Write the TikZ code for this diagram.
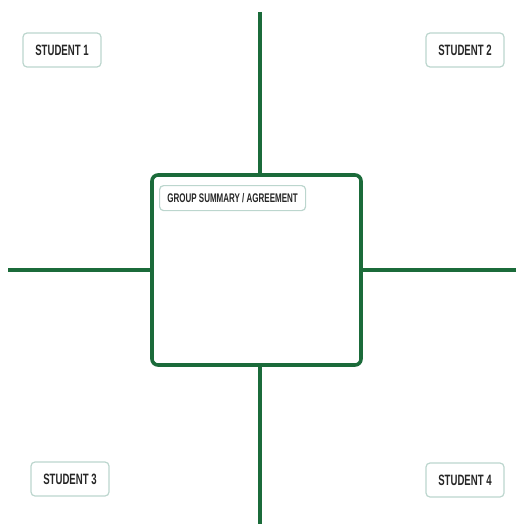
\documentclass[tikz,border=0pt]{standalone}
\usepackage{fontspec}
\newfontfamily\labelfont[FakeStretch=0.64]{Liberation Sans Bold}
\definecolor{boardgreen}{HTML}{1B6B3A}
\definecolor{tagline}{HTML}{BCD6CE}
\usetikzlibrary{positioning}

\begin{document}
\begin{tikzpicture}[
    x=1pt, y=-1pt,
    axis/.style={draw=boardgreen, line width=3.6pt},
    tag/.style={draw=tagline, line width=1.2pt, rounded corners=4pt, fill=white,
                font=\labelfont\fontsize{15}{15}\selectfont, text=black!85,
                minimum width=78pt, minimum height=34pt, inner sep=0pt},
]
\useasboundingbox (0,0) rectangle (516,524);
% central board
\node[axis, rounded corners=6pt, minimum width=209pt, minimum height=190pt, inner sep=0pt]
  (board) at (256.5,270) {};
\coordinate (top) at (260,12);
\coordinate (bottom) at (260,524);
\coordinate (left) at (8,270);
\coordinate (right) at (516,270);
\draw[axis] (top) -- (top |- board.north);
\draw[axis] (bottom) -- (bottom |- board.south);
\draw[axis] (left) -- (board.west);
\draw[axis] (right) -- (board.east);
% labels
\node[tag, anchor=north west, minimum width=146pt, minimum height=25pt,
      font=\labelfont\fontsize{12.5}{12.5}\selectfont]
  (summary) at (159,185) {GROUP SUMMARY / AGREEMENT};
\node[tag] (student1) at (62,50) {STUDENT 1};
\node[tag] (student2) at (465,50) {STUDENT 2};
\node[tag] (student3) at (70,479) {STUDENT 3};
\node[tag] (student4) at (465,480) {STUDENT 4};
\end{tikzpicture}
\end{document}
